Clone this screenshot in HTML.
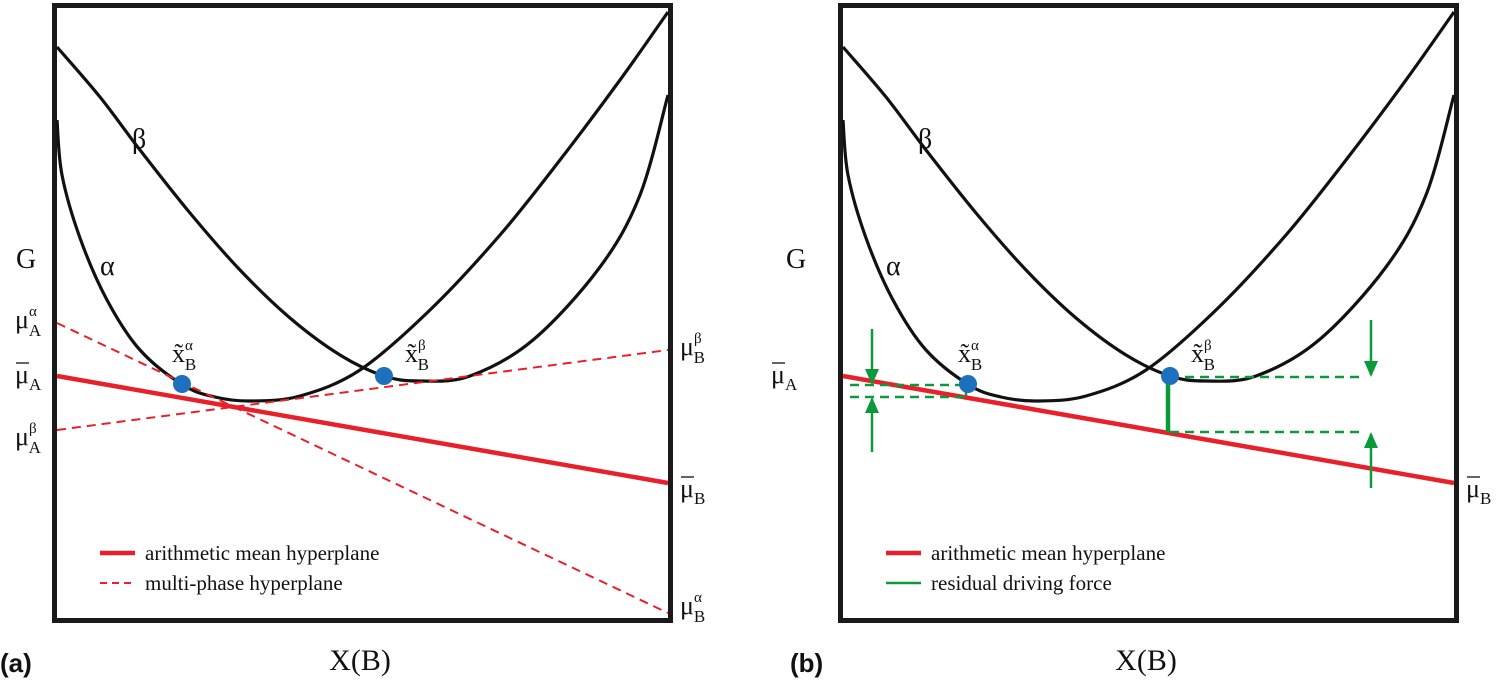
<!DOCTYPE html>
<html><head><meta charset="utf-8">
<style>
html,body{margin:0;padding:0;background:#fff;}
svg{display:block;}
text{font-family:"Liberation Serif",serif;fill:#111;}
</style></head>
<body>
<svg id="fig" width="1498" height="683" viewBox="0 0 1498 683" xmlns="http://www.w3.org/2000/svg">
<defs>
<marker id="ahb" markerWidth="16" markerHeight="14" refX="14" refY="7" orient="auto" markerUnits="userSpaceOnUse" viewBox="0 0 16 14">
<path d="M0,0 L16,7 L0,14 z" fill="#0a9a3a"/></marker>
</defs>
<g id="pa"></g>
<g id="pb"></g>
</svg>
<script>
const alphaX = [57,62,80,107,140,183,215,250,300,360,430,500,560,620,668];
const alphaY = [120,175,238,300,350,385,397,401,396,370,310,235,160,80,12];
const betaX = [57,100,140,190,240,290,340,384,420,470,533,600,640,668];
const betaY = [47,97,150,213,270,318,355,376,381,376,340,267,195,95];
const NS="http://www.w3.org/2000/svg";
function el(tag,attrs,parent){const e=document.createElementNS(NS,tag);for(const k in attrs)e.setAttribute(k,attrs[k]);parent.appendChild(e);return e;}
function smooth(xs,ys,dx){let d="M"+(xs[0]+dx)+","+ys[0];
 for(let i=0;i<xs.length-1;i++){const x0=xs[Math.max(i-1,0)],y0=ys[Math.max(i-1,0)],x1=xs[i],y1=ys[i],x2=xs[i+1],y2=ys[i+1],x3=xs[Math.min(i+2,xs.length-1)],y3=ys[Math.min(i+2,xs.length-1)];
 d+=" C"+(x1+(x2-x0)/6+dx)+","+(y1+(y2-y0)/6)+" "+(x2-(x3-x1)/6+dx)+","+(y2-(y3-y1)/6)+" "+(x2+dx)+","+y2;}return d;}
function label(parent,x,y,main,sub,sup,bar,size){
 const t=el("text",{x:x,y:y,"font-size":size||26},parent);
 
 
 t.appendChild(document.createTextNode(main));
 if(sup){const s=el("tspan",{"font-size":15,dy:-12},t);s.textContent=sup;}
 if(sub){const s=el("tspan",{"font-size":17,dy:sup?20:7,dx:sup?-8:0},t);s.textContent=sub;}
 if(bar){el("line",{x1:x+1,x2:x+14,y1:y-20,y2:y-20,stroke:"#111","stroke-width":1.3},parent);}
 return t;}
function panel(g,dx,isB){
 const box=el("rect",{x:54.5+dx,y:5.5,width:616,height:615,fill:"none",stroke:"#1a1a1a","stroke-width":5},g);
 
 const a=el("path",{d:smooth(alphaX,alphaY,dx),fill:"none",stroke:"#111","stroke-width":3.2},g);
 
 const b=el("path",{d:smooth(betaX,betaY,dx),fill:"none",stroke:"#111","stroke-width":3.2},g);
 
 const am=el("line",{x1:57+dx,y1:376,x2:668+dx,y2:483,stroke:"#e8202a","stroke-width":4.5},g);
 
 if(!isB){
  const d1=el("line",{x1:57+dx,y1:323,x2:668+dx,y2:613,stroke:"#e8202a","stroke-width":2,"stroke-dasharray":"9,6"},g);
  
  const d2=el("line",{x1:57+dx,y1:430,x2:668+dx,y2:350,stroke:"#e8202a","stroke-width":2,"stroke-dasharray":"9,6"},g);
  
 } else {
  const G="#0a9a3a";
  const segs=[[850,385,968,385],[850,397,968,397],[1170,377,1365,377],[1170,432,1365,432]];
  segs.forEach(s=>{const l=el("line",{x1:s[0],y1:s[1],x2:s[2],y2:s[3],stroke:G,"stroke-width":2.5,"stroke-dasharray":"9,6"},g);
   });
  const arr=[[872,329,872,383],[872,452,872,399],[1371,320,1371,375],[1371,488,1371,434]];
  arr.forEach(s=>{const l=el("line",{x1:s[0],y1:s[1],x2:s[2],y2:s[3],stroke:G,"stroke-width":2.5,"marker-end":"url(#ahb)"},g);
   });
  const v=el("line",{x1:1168,y1:378,x2:1168,y2:432,stroke:G,"stroke-width":4.5},g);
  
  const sm=el("line",{x1:966,y1:386,x2:966,y2:396,stroke:G,"stroke-width":2.5},g);
  
 }
 [[182,384],[384,376]].forEach((p,i)=>{const c=el("circle",{cx:p[0]+dx,cy:p[1],r:9,fill:"#1f6fbf"},g);
  });
 label(g,132+dx,148,"β",null,null,false,28);
 label(g,100+dx,275,"α",null,null,false,28);
 label(g,16+dx+(isB?-16:0),268,"G",null,null,false,28);
 label(g,172+dx,362,"x̃","B","α",false,26);
 label(g,405+dx,362,"x̃","B","β",false,26);
 const lx=isB?dx-30:0;
 label(g,15+lx,383,"μ","A",null,true,26);
 label(g,680+dx,497,"μ","B",null,true,26);
 if(!isB){
  label(g,15,328,"μ","A","α",false,26);
  label(g,15,445,"μ","A","β",false,26);
  label(g,680,355,"μ","B","β",false,26);
  label(g,680,614,"μ","B","α",false,26);
 }
 const l1=el("line",{x1:100+dx,y1:553,x2:135+dx,y2:553,stroke:"#e8202a","stroke-width":4.5},g);
 
 const l2=el("line",{x1:100+dx,y1:583,x2:135+dx,y2:583,stroke:isB?"#0a9a3a":"#e8202a","stroke-width":isB?2.5:2,"stroke-dasharray":isB?"none":"7,5"},g);
 
 const t1=el("text",{x:145+dx,y:560,"font-size":21},g);t1.textContent="arithmetic mean hyperplane";
 
 const t2=el("text",{x:145+dx,y:590,"font-size":21},g);t2.textContent=isB?"residual driving force":"multi-phase hyperplane";
 
 const xt=el("text",{x:360+dx,y:670,"font-size":30,"text-anchor":"middle"},g);xt.textContent="X(B)";
 
 const pl=el("text",{x:(isB?790:0),y:672,"font-size":26,"font-weight":"bold",style:"font-family:'Liberation Sans',sans-serif"},g);pl.textContent=isB?"(b)":"(a)";
 
}
panel(document.getElementById("pa"),0,false);
panel(document.getElementById("pb"),786,true);
</script>
</body></html>
